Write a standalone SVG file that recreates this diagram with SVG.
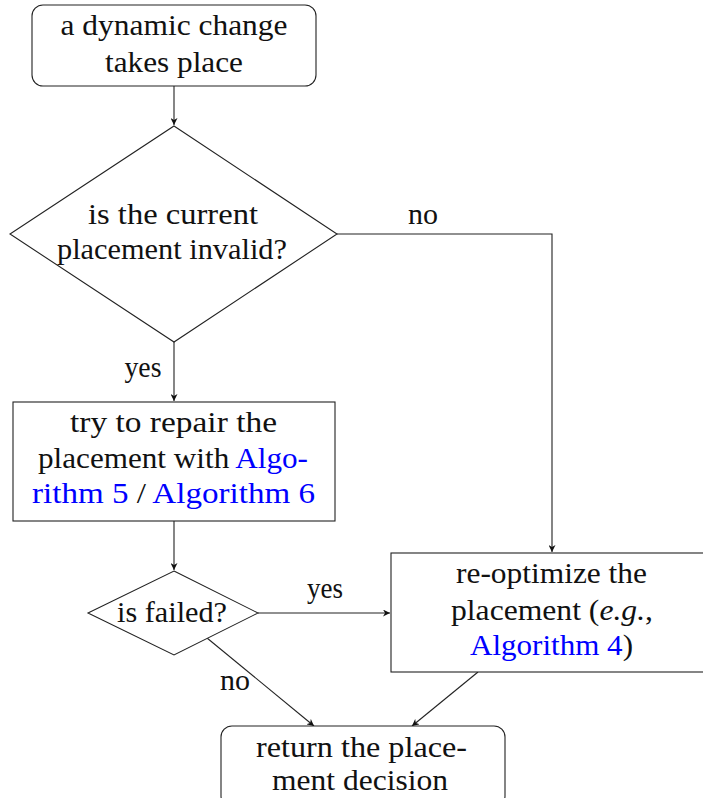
<svg xmlns="http://www.w3.org/2000/svg" width="703" height="798" viewBox="0 0 703 798" font-family="'Liberation Serif', 'DejaVu Serif', 'Times New Roman', serif">
<defs>
<style>
.n{fill:#fff;stroke:#222;stroke-width:1.1}
.c{fill:none;stroke:#222;stroke-width:1.1}
.t{font-family:'Liberation Serif','DejaVu Serif','Times New Roman',serif;font-size:29px;fill:#111;text-anchor:middle}
.l{fill:#0000ff}
.it{font-style:italic}
</style>
<marker id="ah" viewBox="0 0 10 10" refX="10" refY="5" markerWidth="7" markerHeight="7" markerUnits="userSpaceOnUse" orient="auto">
<path d="M0,0 L10,5 L0,10 L3,5 Z" fill="#111"/>
</marker>
</defs>
<rect width="703" height="798" fill="#fff"/>
<g id="connectors">
<line class="c" x1="174" y1="86" x2="174" y2="125" marker-end="url(#ah)"/>
<polyline class="c" points="337,234 552,234 552,552" marker-end="url(#ah)"/>
<line class="c" x1="174" y1="342" x2="174" y2="401" marker-end="url(#ah)"/>
<line class="c" x1="174" y1="521" x2="174" y2="570" marker-end="url(#ah)"/>
<line class="c" x1="258" y1="613" x2="390" y2="613" marker-end="url(#ah)"/>
<line class="c" x1="207" y1="638" x2="314" y2="726" marker-end="url(#ah)"/>
<line class="c" x1="478" y1="672" x2="412" y2="726" marker-end="url(#ah)"/>
<text class="t" x="423" y="224" textLength="30" lengthAdjust="spacingAndGlyphs">no</text>
<text class="t" x="143" y="377" textLength="37" lengthAdjust="spacingAndGlyphs">yes</text>
<text class="t" x="325" y="598" textLength="36" lengthAdjust="spacingAndGlyphs">yes</text>
<text class="t" x="235" y="690" textLength="30" lengthAdjust="spacingAndGlyphs">no</text>
</g>
<g id="start">
<rect class="n" x="32" y="5" width="284" height="81" rx="11"/>
<text class="t" x="174" y="35" textLength="227" lengthAdjust="spacingAndGlyphs">a dynamic change</text>
<text class="t" x="174" y="72" textLength="138" lengthAdjust="spacingAndGlyphs">takes place</text>
</g>
<g id="invalid">
<polygon class="n" points="174,126 337,234 174,342 10,234"/>
<text class="t" x="173" y="224" textLength="170" lengthAdjust="spacingAndGlyphs">is the current</text>
<text class="t" x="172" y="259" textLength="230" lengthAdjust="spacingAndGlyphs">placement invalid?</text>
</g>
<g id="repair">
<rect class="n" x="13" y="402" width="322" height="119"/>
<text class="t" x="173.5" y="432" textLength="207" lengthAdjust="spacingAndGlyphs">try to repair the</text>
<text class="t" x="173" y="468" textLength="270" lengthAdjust="spacingAndGlyphs">placement with <tspan class="l">Algo-</tspan></text>
<text class="t" x="173.5" y="503" textLength="283" lengthAdjust="spacingAndGlyphs"><tspan class="l">rithm 5</tspan> / <tspan class="l">Algorithm 6</tspan></text>
</g>
<g id="failed">
<polygon class="n" points="174,571 258,613 174,655 88,613"/>
<text class="t" x="172" y="622" textLength="110" lengthAdjust="spacingAndGlyphs">is failed?</text>
</g>
<g id="reoptimize">
<rect class="n" x="391" y="553" width="322" height="119"/>
<text class="t" x="551.5" y="583" textLength="191" lengthAdjust="spacingAndGlyphs">re-optimize the</text>
<text class="t" x="552" y="620" textLength="202" lengthAdjust="spacingAndGlyphs">placement (<tspan class="it">e.g.</tspan>,</text>
<text class="t" x="551.5" y="655" textLength="163" lengthAdjust="spacingAndGlyphs"><tspan class="l">Algorithm 4</tspan>)</text>
</g>
<g id="return">
<rect class="n" x="221" y="726" width="284" height="81" rx="11"/>
<text class="t" x="361.5" y="757" textLength="211" lengthAdjust="spacingAndGlyphs">return the place-</text>
<text class="t" x="360" y="790" textLength="176" lengthAdjust="spacingAndGlyphs">ment decision</text>
</g>
</svg>
